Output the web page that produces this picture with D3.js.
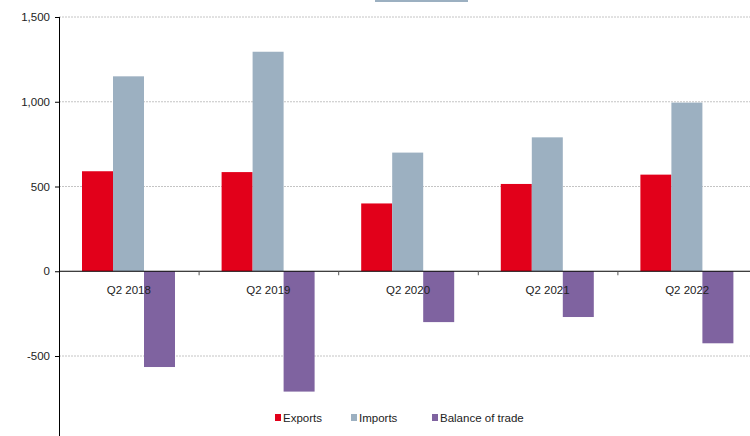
<!DOCTYPE html>
<html lang="en">
<head>
  <meta charset="UTF-8">
  <title>Trade balance Q2</title>
  <script src="https://d3js.org/d3.v7.min.js"></script>
  <style>
    body { margin: 0; background: #fff; }
    svg { display: block; font-family: "Liberation Sans", Arial, sans-serif; }
    .tick text { font-size: 11.5px; fill: #222; }
  </style>
</head>
<body>
  <svg width="750" height="436"></svg>
  <script>
    const width = 750, height = 436;
    const svg = d3.select("svg");

    // data
    const quarters = ["Q2 2018", "Q2 2019", "Q2 2020", "Q2 2021", "Q2 2022"];
    const seriesNames = ["Exports", "Imports", "Balance of trade"];
    const exportsVals = [590, 585, 400, 515, 570];
    const importsVals = [1150, 1295, 700, 790, 995];
    const balanceVals = [-565, -710, -300, -270, -425];
    const yTicks = [-500, 0, 500, 1000, 1500];
    const colors = ["#e2001a", "#9cb0c1", "#7f63a0"];

    const left = 59;
    const y = d3.scaleLinear().domain([-500, 1500]).range([356, 17]);
    const x0 = d3.scaleBand().domain(quarters).range([left, left + 698]);
    const x1 = d3.scaleBand().domain(seriesNames).range([23, 23 + 93]);

    // grid lines
    svg.append("g")
      .selectAll("line")
      .data(yTicks.filter(d => d !== 0))
      .join("line")
      .attr("x1", left).attr("x2", width)
      .attr("y1", d => y(d)).attr("y2", d => y(d))
      .attr("stroke", "#c4c4c4")
      .attr("stroke-dasharray", "2,1");

    // leftover legend strip at the very top
    svg.append("rect")
      .attr("x", 375).attr("y", 0).attr("width", 93).attr("height", 2)
      .attr("fill", colors[1]);

    const rows = quarters.map((q, i) => ({
      q, values: [exportsVals[i], importsVals[i], balanceVals[i]]
    }));

    svg.append("g")
      .selectAll("g")
      .data(rows)
      .join("g")
      .attr("transform", d => `translate(${x0(d.q)},0)`)
      .selectAll("rect")
      .data(d => d.values.map((v, k) => ({ name: seriesNames[k], v, k })))
      .join("rect")
      .attr("x", d => x1(d.name))
      .attr("width", x1.bandwidth())
      .attr("y", d => y(Math.max(0, d.v)))
      .attr("height", d => Math.abs(y(d.v) - y(0)))
      .attr("fill", d => colors[d.k]);

    // y axis
    const yAxis = svg.append("g")
      .attr("transform", `translate(${left},0)`)
      .call(d3.axisLeft(y).tickValues(yTicks).tickSize(4).tickPadding(5)
        .tickFormat(d => d < 0 ? "-" + d3.format(",")(-d) : d3.format(",")(d)));
    yAxis.select(".domain").remove();
    svg.append("line")
      .attr("x1", left + 0.5).attr("x2", left + 0.5)
      .attr("y1", y(1500)).attr("y2", height)
      .attr("stroke", "#000");

    // zero line with band ticks
    svg.append("line")
      .attr("x1", left).attr("x2", width)
      .attr("y1", y(0)).attr("y2", y(0))
      .attr("stroke", "#000");
    svg.append("g")
      .selectAll("line")
      .data(quarters.slice(1))
      .join("line")
      .attr("x1", d => x0(d) + 0.5).attr("x2", d => x0(d) + 0.5)
      .attr("y1", y(0)).attr("y2", y(0) + 4)
      .attr("stroke", "#555");

    // category labels
    svg.append("g")
      .selectAll("text")
      .data(quarters)
      .join("text")
      .attr("x", d => x0(d) + x0.bandwidth() / 2)
      .attr("y", y(0) + 23)
      .attr("text-anchor", "middle")
      .attr("font-size", 11.5)
      .attr("fill", "#222")
      .text(d => d);

    // legend
    const legendX = [275, 351, 432];
    const legend = svg.append("g")
      .selectAll("g")
      .data(seriesNames)
      .join("g")
      .attr("transform", (d, i) => `translate(${legendX[i]},414)`);
    legend.append("rect")
      .attr("width", 6).attr("height", 7)
      .attr("fill", (d, i) => colors[i]);
    legend.append("text")
      .attr("x", 8).attr("y", 7.5)
      .attr("font-size", 11.5)
      .attr("fill", "#222")
      .text(d => d);
  </script>
</body>
</html>
